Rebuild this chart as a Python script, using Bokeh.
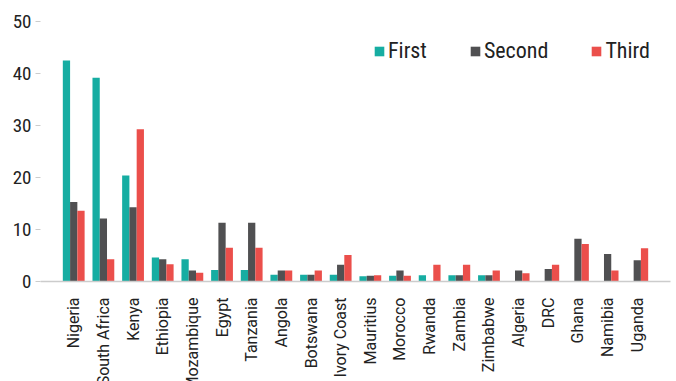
import math
from bokeh.plotting import figure
from bokeh.models import ColumnDataSource, FactorRange, Legend, LegendItem
from bokeh.transform import dodge
from bokeh.embed import file_html
from bokeh.resources import INLINE

countries = ["Nigeria", "South Africa", "Kenya", "Ethiopia", "Mozambique", "Egypt",
             "Tanzania", "Angola", "Botswana", "Ivory Coast", "Mauritius", "Morocco",
             "Rwanda", "Zambia", "Zimbabwe", "Algeria", "DRC", "Ghana", "Namibia", "Uganda"]
first = [42.5, 39.2, 20.4, 4.6, 4.3, 2.2, 2.2, 1.3, 1.3, 1.3, 1.0, 1.1, 1.2, 1.2, 1.2,
         0, 0, 0, 0, 0]
second = [15.3, 12.1, 14.3, 4.3, 2.1, 11.3, 11.3, 2.1, 1.3, 3.2, 1.1, 2.1, 0, 1.2, 1.2,
          2.1, 2.4, 8.2, 5.3, 4.1]
third = [13.6, 4.3, 29.3, 3.3, 1.7, 6.5, 6.5, 2.1, 2.1, 5.1, 1.2, 1.1, 3.2, 3.2, 2.1,
         1.6, 3.2, 7.2, 2.1, 6.4]
series_names = ["First", "Second", "Third"]
colors = ["#16ADA2", "#505052", "#EB4F4B"]
y_ticks = [0, 10, 20, 30, 40, 50]

COND = "Roboto Condensed, DejaVu Sans Condensed, Roboto"

src = ColumnDataSource(dict(country=countries, First=first, Second=second, Third=third))

p = figure(width=676, height=393, output_backend="svg", toolbar_location=None,
           x_range=FactorRange(*countries, range_padding=0.62, range_padding_units="absolute"),
           y_range=(0, 50),
           min_border_left=40, min_border_right=6, min_border_top=21, min_border_bottom=0)

renderers = []
for name, off, col in zip(series_names, [-0.245, 0.0, 0.245], colors):
    r = p.vbar(x=dodge("country", off, range=p.x_range), top=name, width=0.245,
               source=src, fill_color=col, line_color=None)
    renderers.append(r)

p.outline_line_color = None
p.xgrid.grid_line_color = None
p.ygrid.grid_line_color = None
p.background_fill_color = "white"
p.border_fill_color = "white"

p.yaxis.ticker = y_ticks
p.yaxis.axis_line_color = None
p.yaxis.major_tick_out = 5
p.yaxis.major_tick_in = 0
p.yaxis.minor_tick_line_color = None
p.yaxis.major_tick_line_color = "#cccccc"
p.yaxis.major_label_standoff = 4
p.yaxis.major_label_text_font = COND
p.yaxis.major_label_text_font_size = "19px"
p.yaxis.major_label_text_color = "#222222"

p.xaxis.axis_line_color = "#cccccc"
p.xaxis.axis_line_width = 1.5
p.xaxis.major_tick_line_color = None
p.xaxis.minor_tick_line_color = None
p.xaxis.major_label_orientation = math.pi / 2
p.xaxis.major_label_standoff = 10
p.xaxis.major_label_text_font = "Roboto"
p.xaxis.major_label_text_font_size = "16px"
p.xaxis.major_label_text_color = "#222222"

legend = Legend(items=[LegendItem(label=n, renderers=[r]) for n, r in zip(series_names, renderers)],
                orientation="horizontal", location=(333, 218),
                glyph_width=12, glyph_height=12, label_standoff=3, spacing=42,
                padding=0, margin=0, border_line_color=None, background_fill_alpha=0,
                label_text_font=COND, label_text_font_size="22px",
                label_text_color="#222222", label_height=20)
p.add_layout(legend, "center")

open("out.html", "w").write(file_html(p, INLINE))
